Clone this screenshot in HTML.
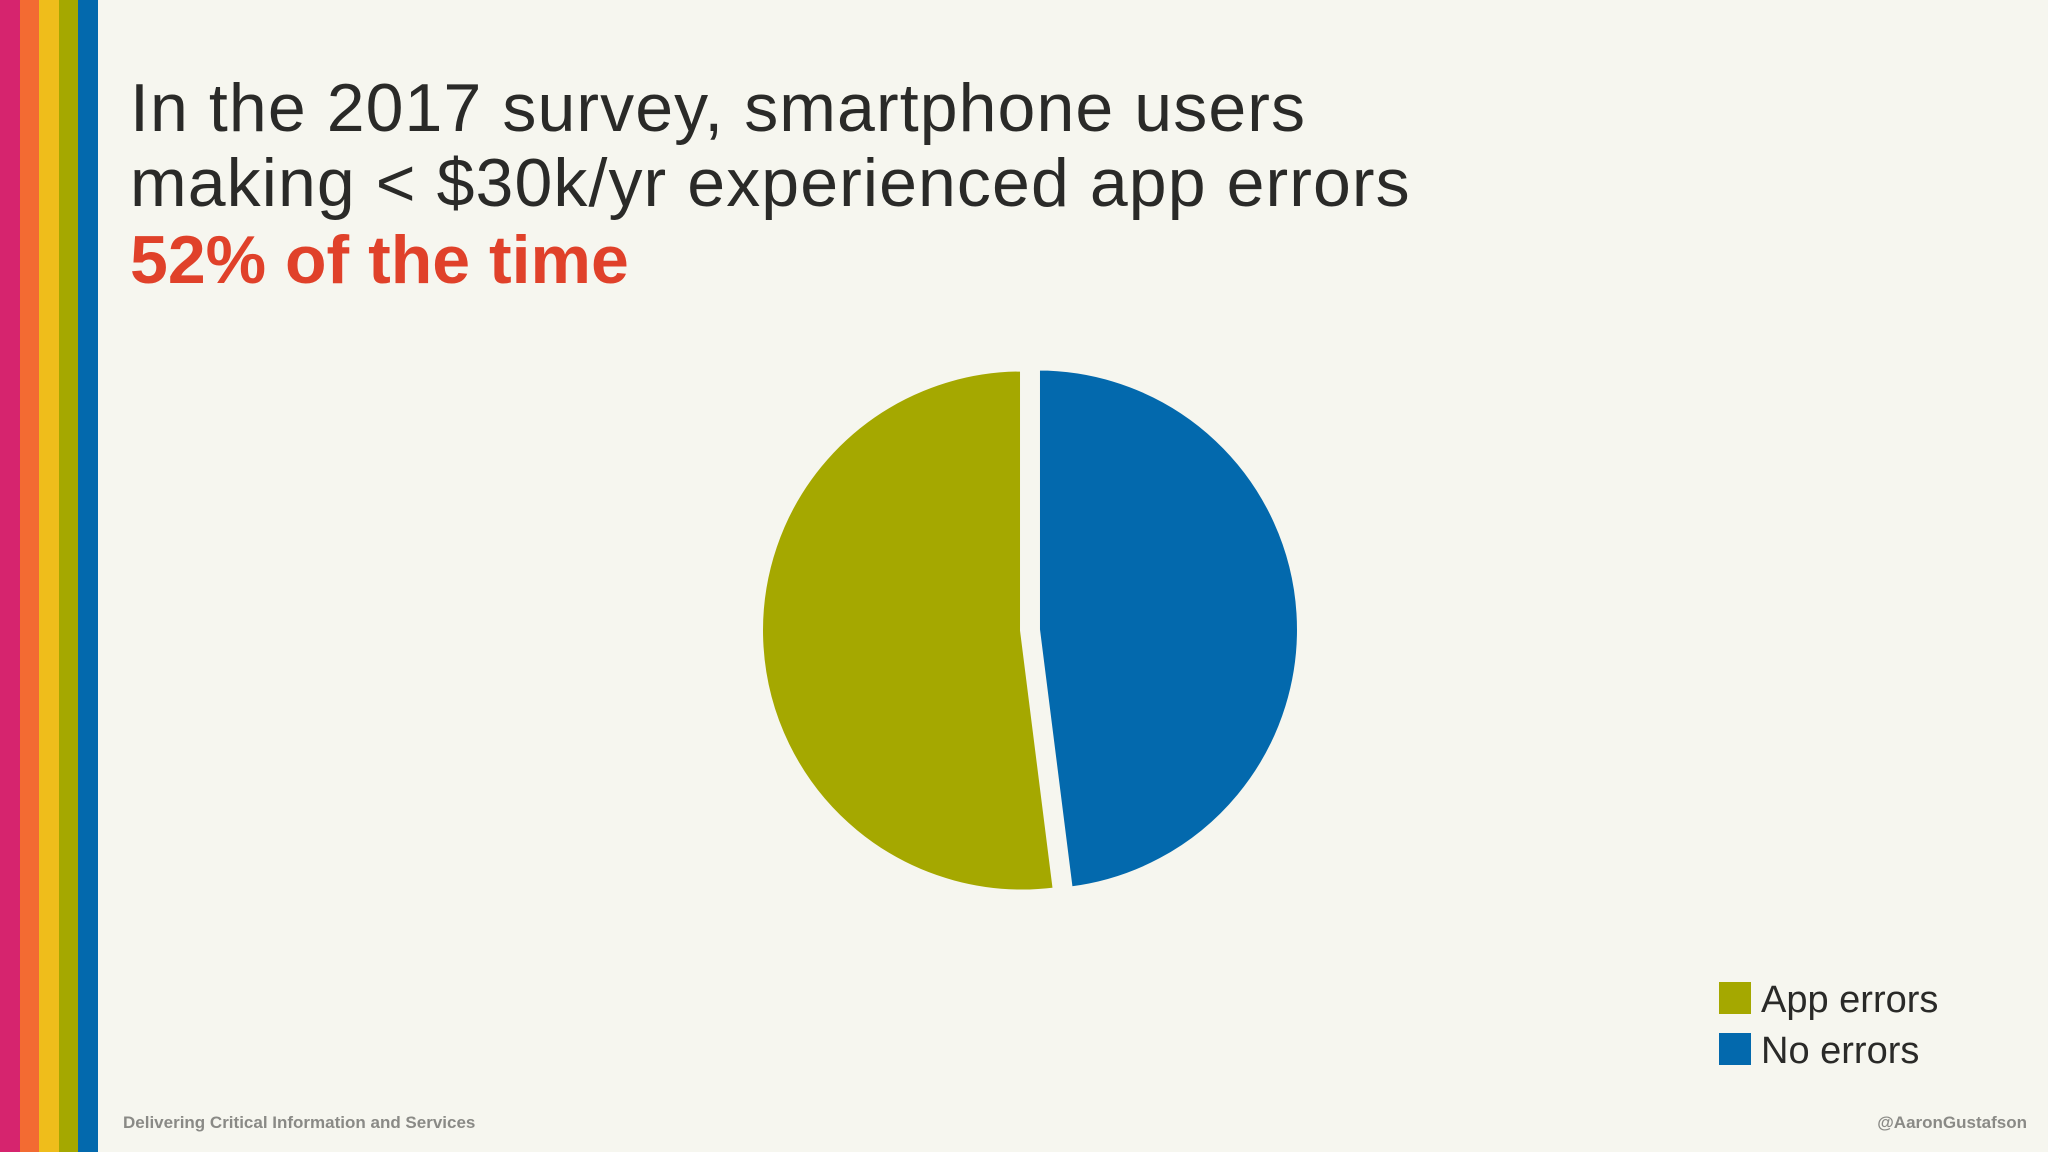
<!DOCTYPE html>
<html><head><meta charset="utf-8"><style>
html,body{margin:0;padding:0;}
body{width:2048px;height:1152px;background:#f6f6ef;position:relative;overflow:hidden;font-family:"Liberation Sans",sans-serif;}
.stripe{position:absolute;top:0;height:1152px;width:20px;}
.title{position:absolute;left:130px;font-size:68px;color:#2a2a28;white-space:nowrap;line-height:1;}
.foot{position:absolute;top:1113px;font-size:17px;font-weight:bold;color:#8a8a86;}
.leg-sw{position:absolute;left:1719px;width:32px;height:32px;}
.leg-tx{position:absolute;left:1761px;font-size:38px;color:#2a2a28;line-height:1;}
</style></head><body>
<div class="stripe" style="left:0;background:#d6246e"></div>
<div class="stripe" style="left:20px;background:#f36b32"></div>
<div class="stripe" style="left:39px;background:#efbd1b"></div>
<div class="stripe" style="left:59px;background:#a5a800"></div>
<div class="stripe" style="left:78px;width:20px;background:#0369ad"></div>

<div class="title" style="top:74px;letter-spacing:1.1px">In the 2017 survey, smartphone users</div>
<div class="title" style="top:149px;letter-spacing:1.1px">making &lt; $30k/yr experienced app errors</div>
<div class="title" style="top:226px;color:#e0412a;font-weight:bold">52% of the time</div>

<svg id="pie" width="2048" height="1152" style="position:absolute;left:0;top:0"></svg>

<div class="leg-sw" style="top:982px;background:#a5a800"></div>
<div class="leg-tx" style="top:981px">App errors</div>
<div class="leg-sw" style="top:1033px;background:#0369ad"></div>
<div class="leg-tx" style="top:1032px">No errors</div>

<div class="foot" style="left:123px">Delivering Critical Information and Services</div>
<div class="foot" style="right:21px">@AaronGustafson</div>

<script>
const categories = ["No errors", "App errors"];
const values = [48, 52];
const colors = ["#0369ad", "#a5a800"];
const svg = document.getElementById('pie');
const cx = 1030, cy = 630, r = 261, explode = 8;
const total = values.reduce((a,b)=>a+b,0);
let start = 0;
values.forEach((v,i)=>{
  const ang = v/total*2*Math.PI;
  const end = start + ang;
  const mid = (start+end)/2;
  const ox = cx + explode*Math.sin(mid), oy = cy - explode*Math.cos(mid);
  const p1 = [ox + r*Math.sin(start), oy - r*Math.cos(start)];
  const p2 = [ox + r*Math.sin(end), oy - r*Math.cos(end)];
  const large = ang > Math.PI ? 1 : 0;
  const path = document.createElementNS('http://www.w3.org/2000/svg','path');
  path.setAttribute('d', `M${ox},${oy} L${p1[0]},${p1[1]} A${r},${r} 0 ${large} 1 ${p2[0]},${p2[1]} Z`);
  path.setAttribute('fill', colors[i]);
  path.setAttribute('stroke', '#f6f6ef');
  path.setAttribute('stroke-width', '4');
  
  
  svg.appendChild(path);
  start = end;
});
</script>
</body></html>
